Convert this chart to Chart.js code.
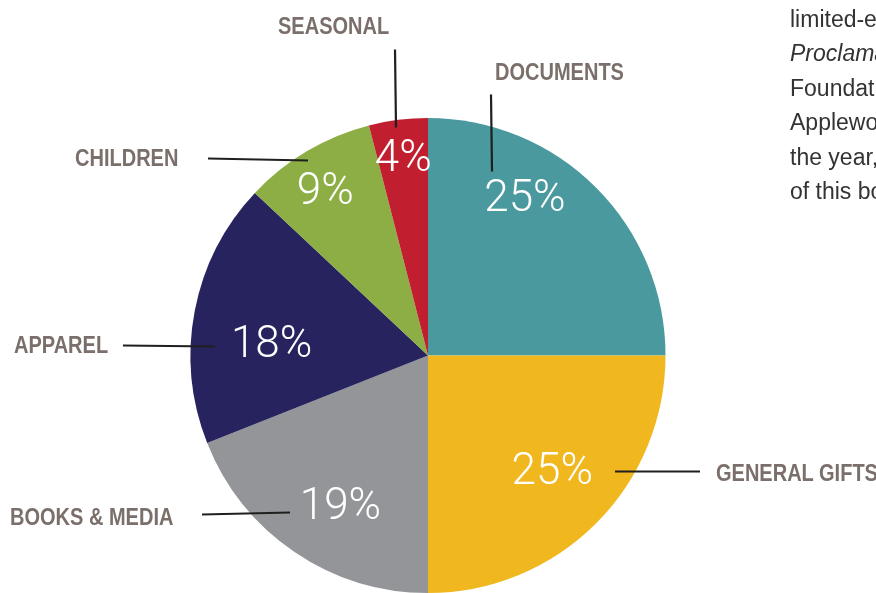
<!DOCTYPE html>
<html>
<head>
<meta charset="utf-8">
<script src="https://cdn.jsdelivr.net/npm/chart.js@4/dist/chart.umd.min.js"></script>
<style>
  html, body { margin: 0; padding: 0; width: 876px; height: 593px; overflow: hidden; background: #fff; }
  #wrap { position: relative; width: 876px; height: 593px; }
  canvas { position: absolute; left: 0; top: 0; }
  .cat { position: absolute; font-family: "Liberation Sans", Arial, sans-serif; font-weight: bold;
         font-size: 23px; color: #7a6f6a; line-height: 1; transform-origin: 0 50%;
         transform: translateY(-50%) scaleX(0.87); white-space: nowrap; }
  #para { position: absolute; left: 790px; top: 2px; font-family: "Liberation Sans", Arial, sans-serif;
          font-size: 23px; line-height: 34.4px; color: #333; white-space: nowrap; }
</style>
</head>
<body>
<div id="wrap">
  <canvas id="c" width="876" height="593"></canvas>
  <div id="para">limited-edition<br><i>Proclamation</i><br>Foundation<br>Applewood<br>the year,<br>of this book</div>
</div>
<script>
// ---- data ----
const categories = ["DOCUMENTS", "GENERAL GIFTS", "BOOKS & MEDIA", "APPAREL", "CHILDREN", "SEASONAL"];
const shares = [25, 25, 19, 18, 9, 4];
const percentLabels = ["25%", "25%", "19%", "18%", "9%", "4%"];
const sliceColors = ["#4a999e", "#f0b71e", "#939598", "#27235e", "#8cae45", "#c11f2f"];

// label placement (angle offset in degrees, radius fraction) for the in-slice percentages
const pctPlacement = [[-13, 0.77], [-1.6, 0.72], [-4.3, 0.74], [-7.2, 0.66], [-1.7, 0.81], [0, 0.83]];
// callouts: label box position and leader line (offsets from pie centre)
const callouts = [
  { left: 495, cy: 72,  line: [[63, -261], [64, -184]] },
  { left: 716, cy: 473, line: [[187, 116], [272, 116]] },
  { left: 10,  cy: 517, line: [[-226, 159], [-138, 157]] },
  { left: 14,  cy: 345, line: [[-305, -10], [-213, -9]] },
  { left: 75,  cy: 158, line: [[-220, -197], [-120, -195]] },
  { left: 278, cy: 26,  line: [[-33, -306], [-32, -228]] }
];

const wrap = document.getElementById('wrap');
categories.forEach((name, i) => {
  const d = document.createElement('div');
  d.className = 'cat';
  d.textContent = name;
  d.style.left = callouts[i].left + 'px';
  d.style.top = callouts[i].cy + 'px';
  wrap.appendChild(d);
});

const overlay = {
  id: 'overlay',
  afterDatasetsDraw(chart) {
    const ctx = chart.ctx;
    const meta = chart.getDatasetMeta(0);
    meta.data.forEach((arc, i) => {
      const p = arc.getProps(['x', 'y', 'startAngle', 'endAngle', 'outerRadius'], true);
      const mid = (p.startAngle + p.endAngle) / 2 + pctPlacement[i][0] * Math.PI / 180;
      const r = p.outerRadius * pctPlacement[i][1];
      ctx.save();
      ctx.fillStyle = '#ffffff';
      ctx.font = '300 44px Roboto, "Liberation Sans", sans-serif';
      ctx.textAlign = 'center';
      ctx.textBaseline = 'middle';
      ctx.fillText(percentLabels[i], p.x + Math.cos(mid) * r, p.y + Math.sin(mid) * r);
      ctx.restore();
      const ln = callouts[i].line;
      ctx.save();
      ctx.strokeStyle = '#1f1f1f';
      ctx.lineWidth = 2.2;
      ctx.beginPath();
      ctx.moveTo(p.x + ln[0][0], p.y + ln[0][1]);
      ctx.lineTo(p.x + ln[1][0], p.y + ln[1][1]);
      ctx.stroke();
      ctx.restore();
    });
  }
};

new Chart(document.getElementById('c'), {
  type: 'pie',
  data: {
    labels: categories,
    datasets: [{ data: shares, backgroundColor: sliceColors, borderWidth: 0, hoverOffset: 0 }]
  },
  options: {
    responsive: false,
    animation: false,
    layout: { padding: { left: 190, right: 210, top: 118, bottom: 0 } },
    plugins: { legend: { display: false }, tooltip: { enabled: false } }
  },
  plugins: [overlay]
});
</script>
</body>
</html>
